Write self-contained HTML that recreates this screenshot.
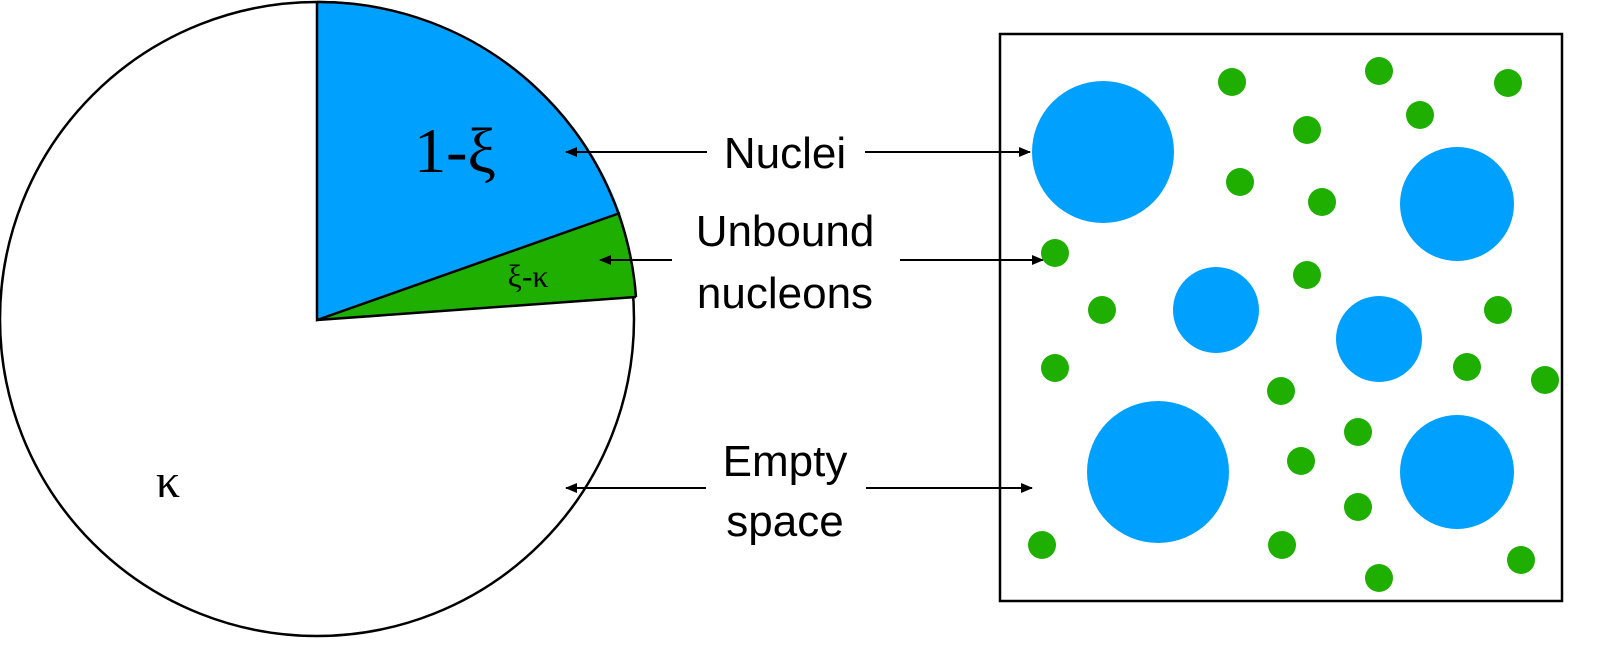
<!DOCTYPE html>
<html><head><meta charset="utf-8"><style>html,body{margin:0;padding:0;background:#fff;overflow:hidden;width:1600px;height:650px}svg{display:block}</style></head><body>
<svg width="1600" height="650" viewBox="0 0 1600 650" xmlns="http://www.w3.org/2000/svg">
<defs><marker id="a" markerWidth="12" markerHeight="10" refX="11" refY="5" orient="auto" markerUnits="userSpaceOnUse"><path d="M0,0 L12,5 L0,10 Z" fill="#000"/></marker></defs>
<circle cx="317" cy="319" r="317" fill="#fff" stroke="#000" stroke-width="2.5"/>
<path d="M317,320 L317,2 A318,318 0 0 1 620,213 Z" fill="#00a0ff"/>
<path d="M317,320 L620,213 A318,318 0 0 1 636,297 Z" fill="#1eaf00"/>
<path d="M317,2 L317,320 L620,213 M317,320 L636,297" stroke="#000" stroke-width="2.5" fill="none"/>
<path d="M317,2 A318,318 0 0 1 636,297" stroke="#000" stroke-width="2.5" fill="none"/>
<text x="455" y="172" font-family="Liberation Serif, serif" font-size="64" text-anchor="middle">1-ξ</text>
<text x="528" y="287" font-family="Liberation Serif, serif" font-size="32" text-anchor="middle">ξ-κ</text>
<text x="168" y="497" font-family="Liberation Serif, serif" font-size="48" text-anchor="middle">κ</text>
<g font-family="Liberation Sans, sans-serif" font-size="44" text-anchor="middle">
<text x="785" y="168">Nuclei</text>
<text x="785" y="246">Unbound</text>
<text x="785" y="308">nucleons</text>
<text x="785" y="476">Empty</text>
<text x="785" y="536">space</text>
</g>
<g stroke="#000" stroke-width="2" marker-end="url(#a)">
<line x1="707" y1="152" x2="566" y2="152"/><line x1="865" y1="152" x2="1030" y2="152"/>
<line x1="672" y1="260" x2="600" y2="260"/><line x1="900" y1="260" x2="1043" y2="260"/>
<line x1="706" y1="488" x2="566" y2="488"/><line x1="866" y1="488" x2="1032" y2="488"/>
</g>
<rect x="1000" y="34" width="562" height="567" fill="none" stroke="#000" stroke-width="2.5"/>
<g fill="#00a0ff">
<circle cx="1103" cy="152" r="71"/><circle cx="1457" cy="204" r="57"/><circle cx="1216" cy="310" r="43"/>
<circle cx="1379" cy="339" r="43"/><circle cx="1158" cy="472" r="71"/><circle cx="1457" cy="472" r="57"/>
</g>
<g fill="#1eaf00">
<circle cx="1232" cy="82" r="14"/><circle cx="1379" cy="71" r="14"/><circle cx="1508" cy="83" r="14"/><circle cx="1420" cy="115" r="14"/>
<circle cx="1307" cy="130" r="14"/><circle cx="1240" cy="182" r="14"/><circle cx="1322" cy="202" r="14"/><circle cx="1055" cy="253" r="14"/>
<circle cx="1307" cy="275" r="14"/><circle cx="1102" cy="310" r="14"/><circle cx="1498" cy="310" r="14"/><circle cx="1055" cy="368" r="14"/>
<circle cx="1467" cy="367" r="14"/><circle cx="1545" cy="380" r="14"/><circle cx="1281" cy="391" r="14"/><circle cx="1358" cy="432" r="14"/>
<circle cx="1301" cy="461" r="14"/><circle cx="1358" cy="507" r="14"/><circle cx="1042" cy="545" r="14"/><circle cx="1282" cy="545" r="14"/>
<circle cx="1521" cy="560" r="14"/><circle cx="1379" cy="578" r="14"/>
</g>
</svg>
</body></html>
